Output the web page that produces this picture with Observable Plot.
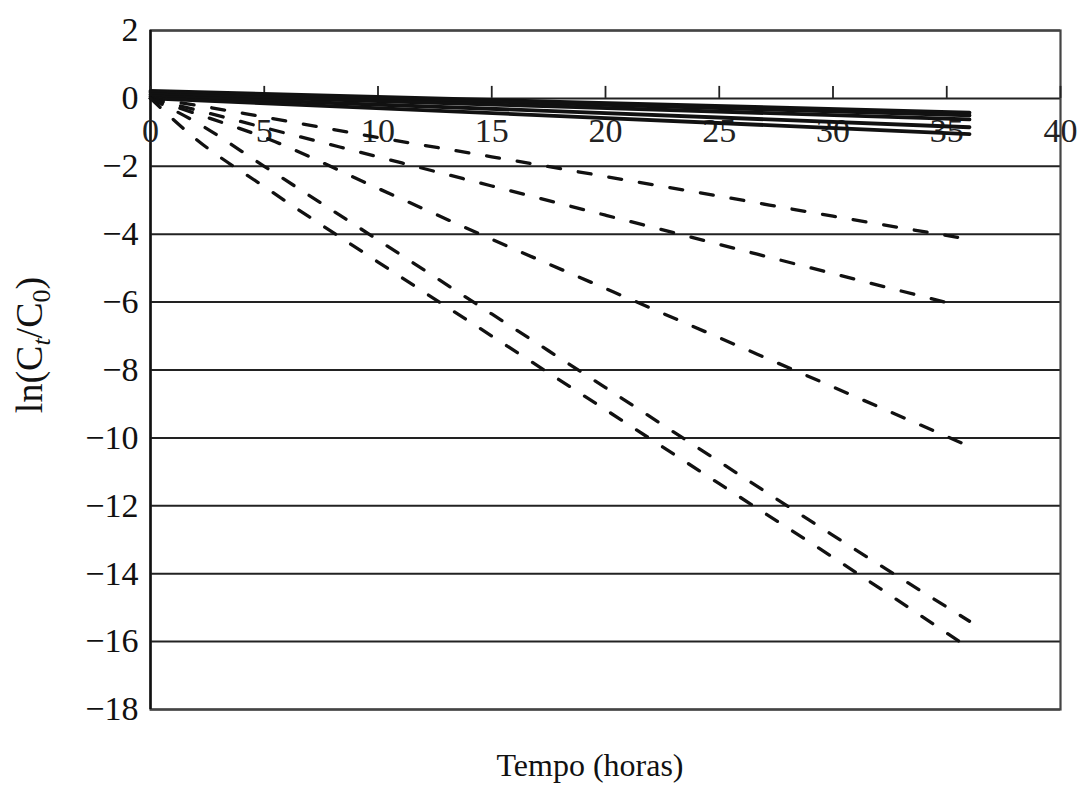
<!DOCTYPE html>
<html><head><meta charset="utf-8">
<script src="https://cdn.jsdelivr.net/npm/d3@7"></script>
<script src="https://cdn.jsdelivr.net/npm/@observablehq/plot@0.6"></script>
<style>body{margin:0;background:#fff;} #chart{width:1080px;height:792px;}</style>
</head><body><div id="chart"></div>
<script>
// ---- data ----
const xTicks = [0, 5, 10, 15, 20, 25, 30, 35, 40];
const yTicks = [2, 0, -2, -4, -6, -8, -10, -12, -14, -16, -18];

const dashTimes  = [0, 2, 5, 10, 15, 20, 25, 30, 36];
const dashTimesB = [0, 2, 5, 10, 15, 20, 25, 30, 35.5];
const dashA = [0, -0.20, -0.55, -1.15, -1.72, -2.30, -2.88, -3.47, -4.15];
const dashB = [0, -0.34, -0.86, -1.72, -2.58, -3.44, -4.30, -5.16, -6.10];
const dashC = [0, -0.45, -1.15, -2.65, -4.15, -5.60, -7.05, -8.50, -10.25];
const dashD = [0, -0.70, -2.00, -4.17, -6.35, -8.52, -10.70, -12.87, -15.40];
const dashE = [0, -1.20, -2.60, -4.82, -7.00, -9.17, -11.35, -13.52, -16.20];

const solidTimes = [0, 18, 36];
const solid1 = [0.22, -0.10, -0.42];
const solid2 = [0.18, -0.15, -0.50];
const solid3 = [0.12, -0.24, -0.62];
const solid4 = [0.06, -0.38, -0.85];
const solid5 = [0.00, -0.52, -1.05];

const xLabel = "Tempo (horas)";

// ---- tables ----
const dashedRows = [];
[["A", dashTimes, dashA], ["B", dashTimesB, dashB], ["C", dashTimes, dashC],
 ["D", dashTimes, dashD], ["E", dashTimes, dashE]].forEach(([s, ts, vs]) =>
  ts.forEach((t, i) => dashedRows.push({series: s, t, v: vs[i]})));
const solidRows = [];
[["1", solid1], ["2", solid2], ["3", solid3], ["4", solid4], ["5", solid5]].forEach(([s, vs]) =>
  solidTimes.forEach((t, i) => solidRows.push({series: s, t, v: vs[i]})));

const FONT = "'Liberation Serif', 'Times New Roman', serif";

const plot = Plot.plot({
  width: 1080,
  height: 792,
  marginLeft: 150,
  marginRight: 20,
  marginTop: 30,
  marginBottom: 83,
  style: {fontFamily: FONT, fontSize: "34px", background: "#fff", color: "#111"},
  x: {domain: [0, 40], axis: null},
  y: {domain: [-18, 2], axis: null},
  marks: [
    Plot.ruleY(yTicks, {stroke: "#222", strokeWidth: 2}),
    Plot.frame({stroke: "#444", strokeWidth: 2.2}),
    Plot.ruleX([0], {stroke: "#111", strokeWidth: 2.4}),
    Plot.axisY(yTicks, {tickSize: 0, tickPadding: 12, fontSize: 34, fontFamily: FONT, label: null, fill: "#111"}),
    Plot.ruleX(xTicks, {x: d => d, y1: 0, y2: 0, insetTop: -12, stroke: "#222", strokeWidth: 1.8}),
    Plot.text(xTicks, {x: d => d, y: 0, dy: 33, text: d => String(d), fontSize: 34, fontFamily: FONT, fill: "#222"}),
    Plot.line(solidRows, {x: "t", y: "v", z: "series", stroke: "#111", strokeWidth: 3.8}),
    Plot.line(dashedRows, {x: "t", y: "v", z: "series", stroke: "#111", strokeWidth: 3.3, strokeDasharray: "13,18", curve: "monotone-x"})
  ]
});
document.getElementById("chart").appendChild(plot);

const svg = d3.select(plot);
svg.append("text")
  .attr("x", 590).attr("y", 776)
  .attr("text-anchor", "middle")
  .style("font-family", FONT).style("font-size", "32px").attr("fill", "#111")
  .text(xLabel);

const yl = svg.append("text")
  .attr("transform", "translate(42,345) rotate(-90)")
  .attr("text-anchor", "middle")
  .style("font-family", FONT).style("font-size", "38px").attr("fill", "#111");
yl.append("tspan").text("ln(C");
yl.append("tspan").attr("font-size", "26px").attr("font-style", "italic").attr("dy", 8).text("t");
yl.append("tspan").attr("dy", -8).text("/C");
yl.append("tspan").attr("font-size", "26px").attr("dy", 8).text("0");
yl.append("tspan").attr("dy", -8).text(")");
</script>
</body></html>
